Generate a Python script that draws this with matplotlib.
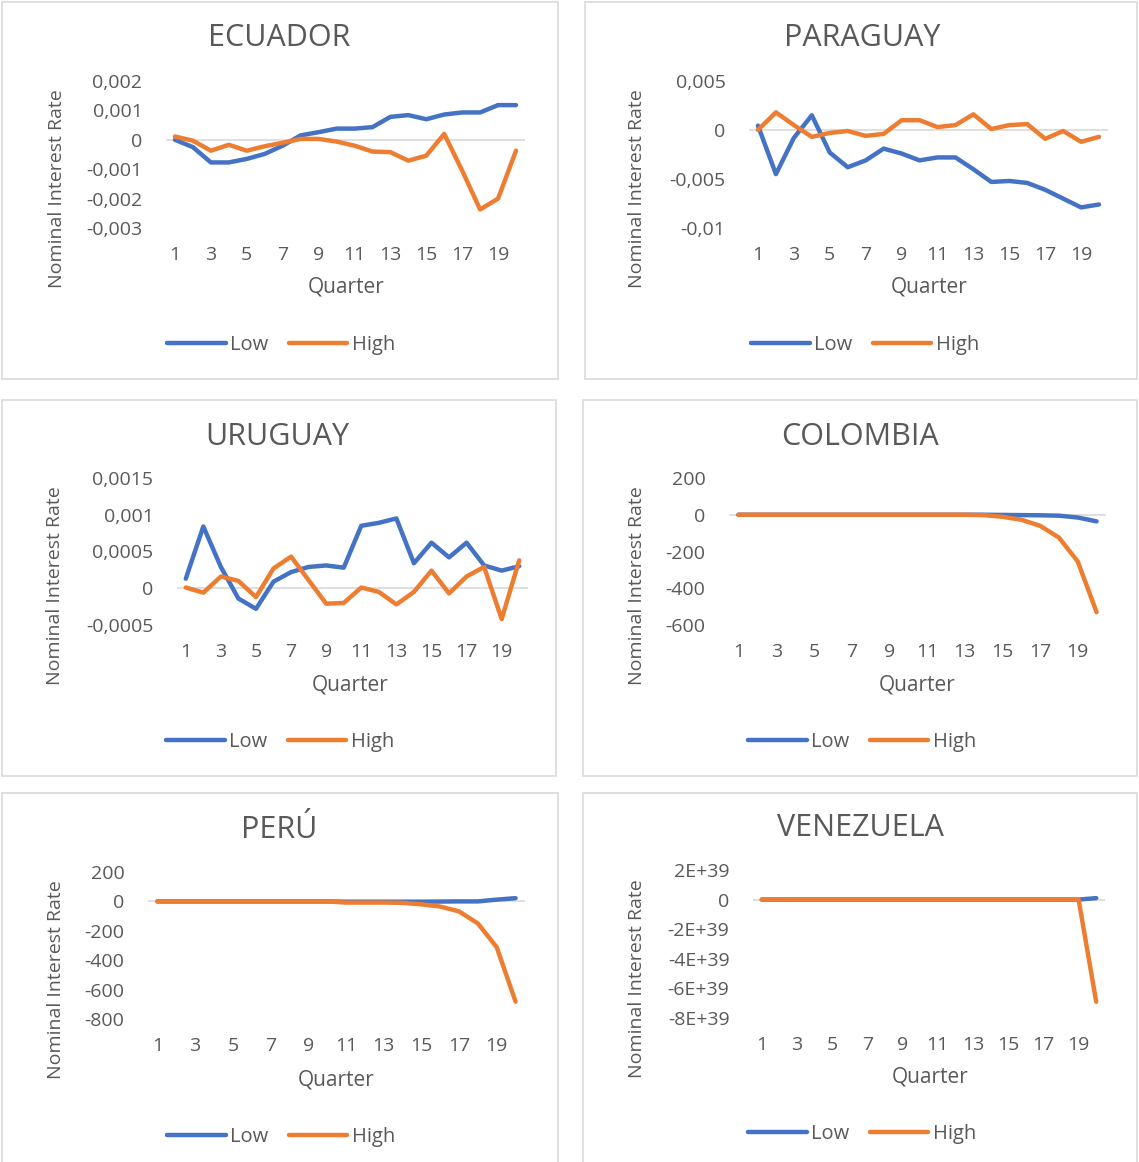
import numpy as np
import matplotlib
matplotlib.use("Agg")
import matplotlib.pyplot as plt
from matplotlib.patches import Rectangle
from matplotlib.ticker import FuncFormatter

plt.rcParams["font.family"] = ["Open Sans", "DejaVu Sans"]

quarters = np.arange(1, 21)

ecuador_low = [0.0, -0.00025, -0.00077, -0.00077, -0.00065, -0.00048, -0.0002, 0.00015, 0.00026, 0.00038,
               0.00038, 0.00043, 0.00078, 0.00084, 0.0007, 0.00086, 0.00093, 0.00093, 0.00118, 0.00118]
ecuador_high = [0.00011, -0.00003, -0.00037, -0.00017, -0.00037, -0.00022, -0.0001, 0.00003, 0.00003, -0.00006,
                -0.0002, -0.0004, -0.00042, -0.00071, -0.00054, 0.0002, -0.00105, -0.00237, -0.002, -0.00037]

paraguay_low = [0.00045, -0.0045, -0.0008, 0.0015, -0.0023, -0.0038, -0.0031, -0.0019, -0.0024, -0.0031,
                -0.0028, -0.0028, -0.004, -0.0053, -0.0052, -0.0054, -0.0061, -0.007, -0.0079, -0.0076]
paraguay_high = [0.0, 0.0018, 0.0005, -0.0007, -0.0003, -0.0001, -0.0006, -0.0004, 0.001, 0.001,
                 0.0003, 0.0005, 0.0016, 0.0001, 0.0005, 0.0006, -0.0009, -0.0001, -0.0012, -0.0007]

uruguay_low = [0.00013, 0.00084, 0.00029, -0.00014, -0.00028, 0.00009, 0.00022, 0.00029, 0.00031, 0.00028,
               0.00085, 0.00089, 0.00095, 0.00034, 0.00062, 0.00042, 0.00062, 0.00031, 0.00024, 0.0003]
uruguay_high = [0.00001, -0.00006, 0.00016, 0.0001, -0.00012, 0.00027, 0.00043, 0.00011, -0.00021, -0.0002,
                0.00001, -0.00005, -0.00022, -0.00005, 0.00024, -0.00007, 0.00016, 0.00029, -0.00042, 0.00038]

colombia_low = [0, 0, 0, 0, 0, 0, 0, 0, 0, 0, 0, 0, 0, 0, -1, -2, -3, -5, -15, -36]
colombia_high = [0, 0, 0, 0, 0, 0, 0, 0, 0, 0, 0, 0, 0, -2, -11, -27, -60, -124, -254, -530]

peru_low = [0, 0, 0, 0, 0, 0, 0, 0, 0, 0, -2, -2, -2, -2, -2, -1, 0, 0, 12, 22]
peru_high = [0, 0, 0, 0, 0, 0, 0, 0, 0, 0, -8, -8, -8, -10, -20, -35, -68, -150, -312, -682]

venezuela_low = [0] * 19 + [1e38]
venezuela_high = [0] * 19 + [-6.9e39]

LOW_COLOR = "#4472C4"
HIGH_COLOR = "#ED7D31"
TEXT_COLOR = "#595959"
GRID_COLOR = "#D9D9D9"
W, H = 1139, 1162

# pixel layout of each chart block
panels = [
    dict(name="ECUADOR", low=ecuador_low, high=ecuador_high, yr=(-0.003, 0.002, 0.001),
         box=(2, 2, 558, 379), ax=(166, 81, 525, 228), title=(279, 38), ylab=(57, 189),
         xlab=(346, 287), leg=(281, 345)),
    dict(name="PARAGUAY", low=paraguay_low, high=paraguay_high, yr=(-0.01, 0.005, 0.005),
         box=(585, 2, 1137, 379), ax=(749, 81, 1108, 228), title=(862, 38), ylab=(637, 189),
         xlab=(929, 287), leg=(865, 345)),
    dict(name="URUGUAY", low=uruguay_low, high=uruguay_high, yr=(-0.0005, 0.0015, 0.0005),
         box=(2, 400, 556, 776), ax=(177, 478, 528, 625), title=(277, 437), ylab=(55, 586),
         xlab=(350, 685), leg=(280, 742)),
    dict(name="COLOMBIA", low=colombia_low, high=colombia_high, yr=(-600, 200, 200),
         box=(583, 400, 1137, 776), ax=(729, 478, 1106, 625), title=(860, 437), ylab=(637, 586),
         xlab=(917, 685), leg=(862, 742)),
    dict(name="PERÚ", low=peru_low, high=peru_high, yr=(-800, 200, 200),
         box=(2, 793, 558, 1175), ax=(148, 872, 525, 1019), title=(279, 830), ylab=(56, 980),
         xlab=(336, 1080), leg=(281, 1137)),
    dict(name="VENEZUELA", low=venezuela_low, high=venezuela_high, yr=(-8e39, 2e39, 2e39),
         box=(583, 793, 1137, 1175), ax=(753, 870, 1105, 1018), title=(860, 828), ylab=(637, 979),
         xlab=(930, 1077), leg=(862, 1134)),
]


def fx(px):
    return px / W


def fy(py):
    return 1 - py / H


def make_fmt(step):
    def fmt(v, pos):
        if abs(v) < step / 1000:
            return "0"
        return f"{v:g}".replace(".", ",").upper()
    return fmt


fig = plt.figure(figsize=(W / 100, H / 100), dpi=100)

for p in panels:
    x0, y0, x1, y1 = p["box"]
    fig.patches.append(Rectangle((fx(x0), fy(y1)), fx(x1) - fx(x0), fy(y0) - fy(y1),
                                 transform=fig.transFigure, fill=False,
                                 edgecolor=GRID_COLOR, linewidth=1.2, zorder=0))

    l, t, r, b = p["ax"]
    ax = fig.add_axes([fx(l), fy(b), fx(r) - fx(l), fy(t) - fy(b)])
    ax.axhline(0, color=GRID_COLOR, linewidth=1.2, zorder=1)
    ax.plot(quarters, p["low"], color=LOW_COLOR, linewidth=3.2, label="Low",
            solid_joinstyle="round", solid_capstyle="round", zorder=2)
    ax.plot(quarters, p["high"], color=HIGH_COLOR, linewidth=3.2, label="High",
            solid_joinstyle="round", solid_capstyle="round", zorder=3)

    lo, hi, step = p["yr"]
    n = int(round((hi - lo) / step)) + 1
    ax.set_ylim(lo, hi)
    ax.set_yticks(np.linspace(lo, hi, n))
    ax.yaxis.set_major_formatter(FuncFormatter(make_fmt(step)))
    ax.set_xlim(0.5, 20.5)
    ax.set_xticks(quarters[::2])
    ax.tick_params(axis="both", length=0, labelsize=14, labelcolor=TEXT_COLOR)
    ax.tick_params(axis="y", pad=17)
    ax.tick_params(axis="x", pad=13)
    for s in ax.spines.values():
        s.set_visible(False)
    ax.patch.set_alpha(0)

    fig.text(fx(p["title"][0]), fy(p["title"][1]), p["name"], ha="center", va="center",
             fontsize=22, color=TEXT_COLOR)
    fig.text(fx(p["ylab"][0]), fy(p["ylab"][1]), "Nominal Interest Rate", rotation=90,
             ha="center", va="center", fontsize=14, color=TEXT_COLOR)
    fig.text(fx(p["xlab"][0]), fy(p["xlab"][1]), "Quarter", ha="center", va="center",
             fontsize=15, color=TEXT_COLOR)

    leg = ax.legend(loc="center", bbox_to_anchor=(fx(p["leg"][0]), fy(p["leg"][1])),
                    bbox_transform=fig.transFigure, ncol=2, frameon=False, fontsize=14.5,
                    handlelength=2.9, handletextpad=0.2, columnspacing=1.05, borderpad=0)
    for txt in leg.get_texts():
        txt.set_color(TEXT_COLOR)

fig.savefig("out.png", dpi=100)
